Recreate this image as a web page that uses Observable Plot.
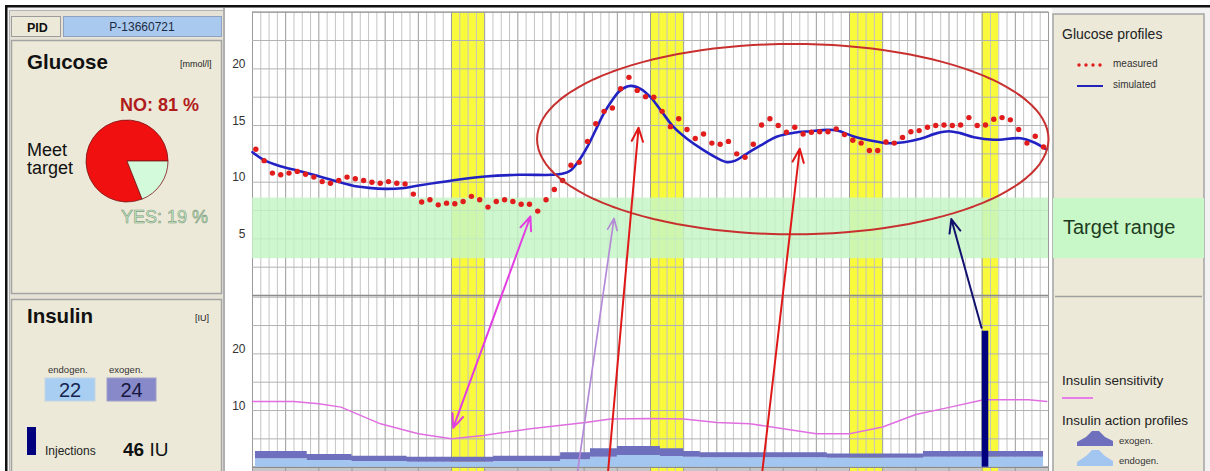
<!DOCTYPE html>
<html><head><meta charset="utf-8">
<script src="https://cdn.jsdelivr.net/npm/d3@7"></script>
<script src="https://cdn.jsdelivr.net/npm/@observablehq/plot@0.6"></script>
<style>
html,body{margin:0;padding:0;background:#fff}
body{width:1210px;height:471px;overflow:hidden;position:relative;font-family:"Liberation Sans",Arial,sans-serif}
#bg{position:absolute;left:0;top:0}
#chart{position:absolute;left:225px;top:8px}
svg text{font-family:"Liberation Sans",Arial,sans-serif}
</style></head><body>
<svg id="bg" width="1210" height="471" xmlns="http://www.w3.org/2000/svg">
  <rect x="0" y="0" width="1210" height="471" fill="#fff"/>
  <rect x="7" y="7" width="1203" height="464" fill="#f2f2f2"/>
  <rect x="5" y="5" width="1205" height="2.5" fill="#111"/>
  <rect x="5" y="5" width="2.5" height="466" fill="#111"/>
  <!-- left column -->
  <rect x="9.5" y="10.5" width="214" height="470" fill="#e6e3d6" stroke="#b4b4b4"/>
  <rect x="11.5" y="16.5" width="49" height="20" fill="#ece9d8" stroke="#9c9c9c"/>
  <rect x="63.5" y="16.5" width="158" height="20" fill="#a9caee" stroke="#8ea2bf"/>
  <text x="27" y="32" font-size="12.5" font-weight="bold" fill="#111">PID</text>
  <text x="142" y="31" font-size="12" text-anchor="middle" fill="#1c2a44">P-13660721</text>
  <rect x="11.5" y="40.5" width="210" height="253" fill="#ece9d9" stroke="#a4a4a4" stroke-width="1.5"/>
  <text x="27" y="69" font-size="20.5" font-weight="bold" fill="#111">Glucose</text>
  <text x="180" y="67" font-size="9" fill="#222">[mmol/l]</text>
  <text x="120" y="111" font-size="18" font-weight="bold" fill="#b01c1c">NO: 81 %</text>
  <text x="27" y="156" font-size="18" fill="#111">Meet</text>
  <text x="27" y="174" font-size="18" fill="#111">target</text>
  <text x="121" y="223" font-size="18" fill="#c6eec6" stroke="#7f9a80" stroke-width="0.6">YES: 19 %</text>
  <g id="pie" transform="translate(127,161)"></g>
  <rect x="11.5" y="299.5" width="210" height="180" fill="#ece9d9" stroke="#a4a4a4" stroke-width="1.5"/>
  <text x="27" y="323" font-size="20.5" font-weight="bold" fill="#111">Insulin</text>
  <text x="195" y="321" font-size="9" fill="#222">[IU]</text>
  <text x="48" y="373" font-size="9.5" fill="#333">endogen.</text>
  <text x="109" y="373" font-size="9.5" fill="#333">exogen.</text>
  <rect x="45" y="378" width="50" height="23" fill="#a8cff2" stroke="#c4d4e4"/>
  <rect x="107" y="378" width="49" height="23" fill="#8789c9" stroke="#a0a0c8"/>
  <text x="70" y="397" font-size="20" text-anchor="middle" fill="#16244e">22</text>
  <text x="131.5" y="397" font-size="20" text-anchor="middle" fill="#16163e">24</text>
  <rect x="27" y="427" width="9" height="28" fill="#00007e"/>
  <text x="45" y="455" font-size="12" fill="#222">Injections</text>
  <text x="123" y="456" font-size="19" fill="#111"><tspan font-weight="bold">46</tspan> IU</text>
  <!-- chart background -->
  <rect x="225" y="8" width="827" height="463" fill="#fff"/>
  <rect x="223" y="8" width="2" height="463" fill="#b0b0b0"/>
  <!-- right legend panel -->
  <rect x="1053" y="14" width="151" height="470" fill="#ece9d9" stroke="#a4a4a4" stroke-width="1.5"/>
  <text x="1062" y="39" font-size="14" fill="#222">Glucose profiles</text>
  <circle cx="1079" cy="65" r="1.7" fill="#e01c1c"/>
  <circle cx="1086" cy="65" r="1.7" fill="#e01c1c"/>
  <circle cx="1093" cy="65" r="1.7" fill="#e01c1c"/>
  <circle cx="1100" cy="65" r="1.7" fill="#e01c1c"/>
  <text x="1113" y="67" font-size="10" fill="#333">measured</text>
  <line x1="1077" y1="86" x2="1103" y2="86" stroke="#2323b8" stroke-width="2"/>
  <text x="1113" y="88" font-size="10" fill="#333">simulated</text>
  <rect x="1053" y="198" width="151" height="60" fill="#c8f7c8"/>
  <text x="1063" y="234" font-size="20" fill="#1e3c1e">Target range</text>
  <line x1="1055" y1="296.5" x2="1202" y2="296.5" stroke="#a0a0a0" stroke-width="1.5"/>
  <text x="1062" y="385" font-size="13.5" fill="#222">Insulin sensitivity</text>
  <line x1="1062" y1="398" x2="1093" y2="398" stroke="#e87ce8" stroke-width="2"/>
  <text x="1062" y="425" font-size="13.5" fill="#222">Insulin action profiles</text>
  <path d="M1077,446 L1077,442 L1086,437 L1092,431 L1099,431 L1105,437 L1113,441 L1113,446 Z" fill="#6e70bd"/>
  <text x="1119" y="444" font-size="9.5" fill="#333">exogen.</text>
  <path d="M1077,466 L1077,462 L1086,456 L1092,450 L1099,450 L1105,456 L1113,461 L1113,466 Z" fill="#a3c6f0"/>
  <text x="1119" y="464" font-size="9.5" fill="#333">endogen.</text>
</svg>
<div id="chart"></div>
<script>
// ---------------- data ----------------
const pieLabels = ["NO", "YES"];
const pieValues = [81, 19];

const measuredTime = [0.1,0.35,0.6,0.85,1.1,1.35,1.6,1.85,2.1,2.35,2.6,2.85,3.1,3.35,3.6,3.85,4.1,4.35,4.6,4.85,5.1,5.35,5.6,5.85,6.1,6.35,6.6,6.85,7.1,7.35,7.6,7.85,8.1,8.35,8.6,8.85,9.1,9.35,9.6,9.85,10.1,10.35,10.6,10.85,11.1,11.35,11.6,11.85,12.1,12.35,12.6,12.85,13.1,13.35,13.6,13.85,14.1,14.35,14.6,14.85,15.1,15.35,15.6,15.85,16.1,16.35,16.6,16.85,17.1,17.35,17.6,17.85,18.1,18.35,18.6,18.85,19.1,19.35,19.6,19.85,20.1,20.35,20.6,20.85,21.1,21.35,21.6,21.85,22.1,22.35,22.6,22.85,23.1,23.35,23.6,23.85];
const measuredGlucose = [12.9,11.9,10.8,10.65,10.8,10.95,10.7,10.45,10.05,9.9,10.15,10.45,10.3,10.15,10.0,9.9,10.05,9.9,9.85,8.95,8.25,8.45,8.0,8.15,8.1,8.3,8.75,8.45,7.8,8.3,8.45,8.3,8.05,8.05,7.45,8.45,9.35,10.15,11.5,11.75,13.6,15.15,16.25,16.55,18.25,19.25,18.1,17.55,17.5,16.25,14.9,15.6,14.65,13.85,14.25,13.45,13.35,13.6,12.5,12.2,13.35,15.05,15.6,15.0,14.4,14.85,14.25,14.4,14.45,14.45,14.7,14.2,13.7,13.45,12.8,12.8,13.55,13.45,13.95,14.45,14.55,14.85,15.0,15.05,15.0,15.05,15.7,15.0,15.05,15.55,15.7,15.5,14.65,13.45,14.05,13.1];

const simulatedTime = [0,0.34,0.84,1.35,2.0,2.55,3.0,3.51,4.01,4.51,5.01,6.02,7.02,8.03,9.04,9.34,9.59,9.84,10.09,10.34,10.59,10.84,11.09,11.4,11.7,12.0,12.35,12.7,13.1,13.61,14.11,14.31,14.56,14.86,15.32,15.82,16.32,16.82,17.33,17.63,18.13,18.63,19.13,19.64,20.14,20.64,20.99,21.34,21.75,22.35,23.15,23.55,23.91];
const simulatedGlucose = [12.65,11.97,11.41,11.03,10.53,10.06,9.71,9.5,9.41,9.47,9.71,10.15,10.5,10.65,10.65,10.74,11.03,11.9,13.09,14.56,16.04,17.2,18.1,18.5,18.24,17.5,16.18,14.85,13.83,12.8,11.97,11.77,11.9,12.44,13.24,14.03,14.36,14.5,14.62,14.56,14.03,13.68,13.44,13.53,13.83,14.33,14.5,14.33,13.97,13.74,13.88,13.53,12.94];

const sensitivityTime = [0,1.24,2.0,2.67,3.86,5.0,6.0,6.96,8.38,10.04,10.79,12.0,13.0,14.0,15.0,16.0,17.0,18.0,19.0,20.0,21.04,22.04,23.4,23.95];
const sensitivityValue = [11.6,11.6,11.2,10.6,7.65,5.9,5.0,5.6,6.8,7.9,8.5,8.6,8.5,7.9,7.65,6.8,5.9,5.9,7.1,9.3,10.6,11.9,11.9,11.6];

const actionTime = [0.09,1.65,3.0,4.66,7.27,9.29,10.19,11.0,12.3,13.0,13.5,17.33,20.23,23.85];
const endogenAction = [1.48,1.18,1.0,0.88,1.0,1.3,1.76,2.06,1.88,1.76,1.65,1.6,1.76,1.76];
const exogenAction = [1.28,1.06,0.94,0.88,0.94,1.24,1.48,1.59,1.36,1.0,0.88,0.75,1.0,1.0];

const mealStart = [6, 12, 18, 22];
const mealEnd = [7, 13, 19, 22.5];
const targetRange = [3.25, 8.6];

const injectionTime = [22.0];
const injectionDose = [24];

const glucoseTicks = [5, 10, 15, 20];
const insulinTicks = [10, 20];

// ---------------- layout / scale constants ----------------
const GLU_MAX = 25, INS_MAX = 30;
const INS_BASE = -15.15, INS_SCALE = 0.5;   // insulin panel placed below glucose panel on a shared axis
const Y_BOTTOM = -15.53;
const insY = v => INS_BASE + v * INS_SCALE;
const W = 827, H = 463;
const INJ_WIDTH = 0.2;

// ---------------- pie ----------------
const pieColors = ["#f01010", "#d4fadc"];
const pieStart = Math.PI / 2 + 2 * Math.PI * pieValues[1] / 100;
const arcs = d3.pie().sort(null).startAngle(pieStart).endAngle(pieStart + 2 * Math.PI)(pieValues);
const arcGen = d3.arc().innerRadius(0).outerRadius(41);
d3.select("#pie").selectAll("path").data(arcs).join("path")
  .attr("d", arcGen).attr("fill", (d, i) => pieColors[i])
  .attr("stroke", "#7a1414").attr("stroke-width", 0.8);

// ---------------- chart tables ----------------
const measured = measuredTime.map((t, i) => ({t, g: measuredGlucose[i]}));
const simulated = simulatedTime.map((t, i) => ({t, g: simulatedGlucose[i]}));
const sensitivity = sensitivityTime.map((t, i) => ({t, v: sensitivityValue[i]}));
const action = actionTime.map((t, i) => ({t, endo: endogenAction[i], exo: exogenAction[i]}));
const meals = mealStart.map((s, i) => ({s, e: mealEnd[i]}));
const injections = injectionTime.map((t, i) => ({t, dose: injectionDose[i]}));

const majorHours = d3.range(0, 25);
const minorHours = d3.range(0, 24, 0.25).filter(h => h % 1 !== 0);
const gluGrid = d3.range(0, GLU_MAX + 0.01, 2.5);
const insGrid = d3.range(0, INS_MAX + 0.01, 5);

// annotations (data units)
const ellipseNote = {t: 16.29, g: 13.8, rt: 7.71, rg: 8.4};
const ellipsePts = d3.range(0, 360, 3).map(a => ({
  t: ellipseNote.t + ellipseNote.rt * Math.cos(a * Math.PI / 180),
  g: ellipseNote.g + ellipseNote.rg * Math.sin(a * Math.PI / 180)
}));
const arrowNotes = [
  {from: [6.05, "ins", 6.95], to: [8.38, "glu", 6.97], color: "#e23ee2", width: 2, both: true},
  {from: [9.8, "ins", -0.8], to: [10.9, "glu", 6.8], color: "#b48ad6", width: 1.7},
  {from: [10.72, "ins", -0.8], to: [11.64, "glu", 14.8], color: "#e01818", width: 2},
  {from: [15.37, "ins", -0.8], to: [16.5, "glu", 12.95], color: "#e01818", width: 2},
  {from: [21.98, "ins", 24.6], to: [21.07, "glu", 6.75], color: "#12126e", width: 2}
];
const toY = (p, v) => p === "ins" ? insY(v) : v;
const arrowMarks = [];
for (const a of arrowNotes) {
  const x1 = a.from[0], y1 = toY(a.from[1], a.from[2]), x2 = a.to[0], y2 = toY(a.to[1], a.to[2]);
  const segs = a.both
    ? [{x1: (x1 + x2) / 2, y1: (y1 + y2) / 2, x2: x1, y2: y1}, {x1: (x1 + x2) / 2, y1: (y1 + y2) / 2, x2, y2}]
    : [{x1, y1, x2, y2}];
  arrowMarks.push(Plot.arrow(segs, {x1: "x1", y1: "y1", x2: "x2", y2: "y2", stroke: a.color, strokeWidth: a.width, headLength: 11, headAngle: 45}));
}

const chart = Plot.plot({
  width: W, height: H,
  marginLeft: 0, marginRight: 0, marginTop: 0, marginBottom: 0,
  x: {domain: [0, 24], range: [27, 823], axis: null},
  y: {domain: [Y_BOTTOM, GLU_MAX], range: [H, 3.7], axis: null},
  style: {background: "transparent", overflow: "visible"},
  marks: [
    Plot.rect([0], {x1: 0, x2: 24, y1: Y_BOTTOM, y2: insY(0), fill: "#c6c6c6"}),
    Plot.rect(meals, {x1: "s", x2: "e", y1: Y_BOTTOM, y2: GLU_MAX, fill: "#fafa3c"}),
    Plot.ruleX(minorHours, {y1: Y_BOTTOM, y2: GLU_MAX, stroke: "#c4c4c4", strokeWidth: 1}),
    Plot.ruleX(majorHours, {y1: Y_BOTTOM, y2: GLU_MAX, stroke: "#9a9a9a", strokeWidth: 1}),
    Plot.ruleY(gluGrid, {x1: 0, x2: 24, stroke: "#b2b2b2", strokeWidth: 1}),
    Plot.ruleY(insGrid, {x1: 0, x2: 24, y: d => insY(d), stroke: "#b2b2b2", strokeWidth: 1}),
    Plot.rect([targetRange], {x1: 0, x2: 24, y1: d => d[0], y2: d => d[1], fill: "#c4f5c4", fillOpacity: 0.82}),
    Plot.ruleY([0], {x1: 0, x2: 24, stroke: "#8c8c8c", strokeWidth: 1.6}),
    Plot.ruleY([GLU_MAX], {x1: 0, x2: 24, stroke: "#9a9a9a", strokeWidth: 1.2}),
    Plot.ruleY([insY(0)], {x1: 0, x2: 24, stroke: "#8c8c8c", strokeWidth: 1.4}),
    Plot.areaY(action, {x: "t", y1: insY(0), y2: d => insY(d.endo), fill: "#a3c6f0", curve: "step-after"}),
    Plot.areaY(action, {x: "t", y1: d => insY(d.endo), y2: d => insY(d.endo + d.exo), fill: "#6e70bd", curve: "step-after"}),
    Plot.line(sensitivity, {x: "t", y: d => insY(d.v), stroke: "#e06ee0", strokeWidth: 1.5}),
    Plot.rect(injections, {x1: "t", x2: d => d.t + INJ_WIDTH, y1: insY(0), y2: d => insY(d.dose), fill: "#00007e"}),
    Plot.line(simulated, {x: "t", y: "g", stroke: "#2222c4", strokeWidth: 2.6, curve: "catmull-rom"}),
    Plot.dot(measured, {x: "t", y: "g", r: 2.7, fill: "#e21c1c", stroke: "none"}),
    Plot.line(ellipsePts, {x: "t", y: "g", stroke: "#c83030", strokeWidth: 2, curve: "linear-closed"}),
    ...arrowMarks,
    Plot.text(glucoseTicks, {x: 0, y: d => d, text: d => String(d), textAnchor: "end", lineAnchor: "bottom", dx: -7, dy: -1, fontSize: 12, fill: "#333"}),
    Plot.text(insulinTicks, {x: 0, y: d => insY(d), text: d => String(d), textAnchor: "end", lineAnchor: "bottom", dx: -7, dy: -1, fontSize: 12, fill: "#333"})
  ]
});
document.getElementById("chart").appendChild(chart);
</script>
</body></html>
